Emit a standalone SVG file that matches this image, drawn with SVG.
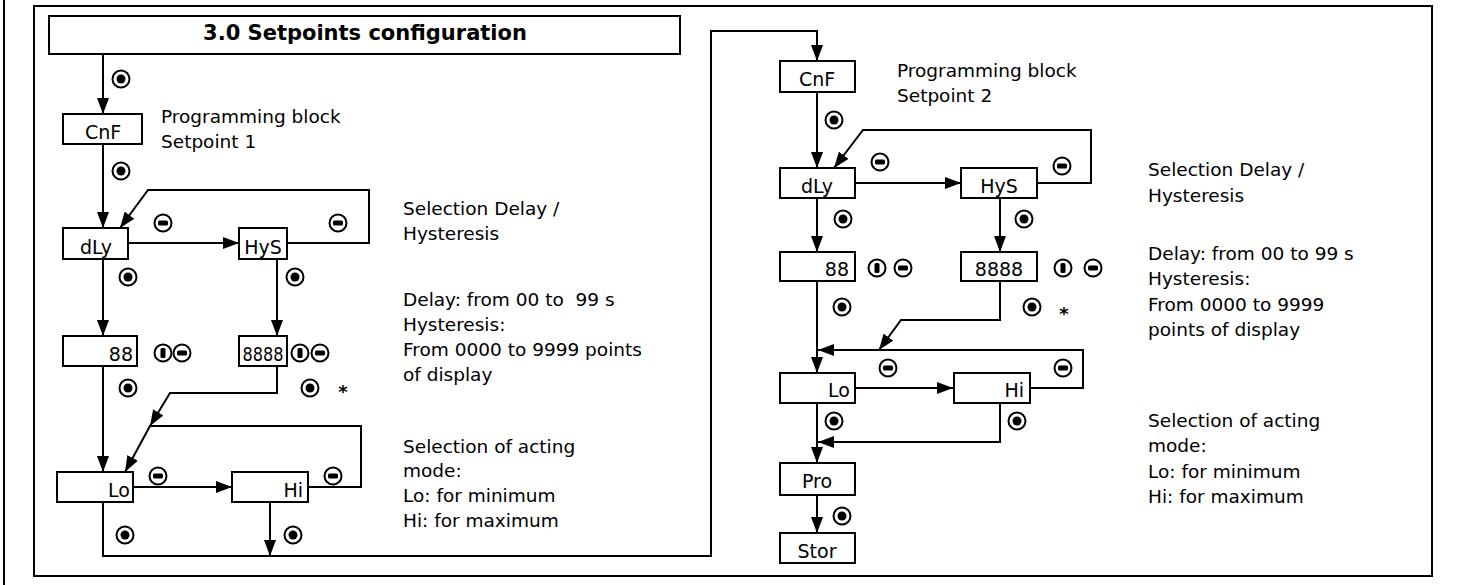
<svg xmlns="http://www.w3.org/2000/svg" width="1471" height="585" viewBox="0 0 1471 585">
<style>
.frame{fill:none;stroke:#000;stroke-width:2}
.box{fill:#fff;stroke:#000;stroke-width:2}
.ln{fill:none;stroke:#000;stroke-width:2}
.lbl{font-family:"DejaVu Sans",Verdana,sans-serif;font-size:19px;fill:#000}
.note{font-family:"DejaVu Sans",Verdana,sans-serif;font-size:18.5px;fill:#000}
.title{font-family:"DejaVu Sans",Verdana,sans-serif;font-size:21px;font-weight:bold;fill:#000}
.star{font-family:"DejaVu Sans",Verdana,sans-serif;font-size:18px;font-weight:bold;fill:#000}
.ring{fill:#fff;stroke:#000;stroke-width:2}
</style>
<defs>
<marker id="arr" markerUnits="userSpaceOnUse" markerWidth="16" markerHeight="12" refX="16" refY="6" orient="auto">
<path d="M0,0 L16,6 L0,12 Z" fill="#000"/>
</marker>
<g id="sel"><circle r="8.5" class="ring"/><circle r="4.5" fill="#000"/></g>
<g id="minus"><circle r="8.5" class="ring"/><rect x="-5" y="-2.5" width="10" height="5" rx="1.5" fill="#000"/></g>
<g id="up"><circle r="8.5" class="ring"/><rect x="-2.5" y="-5" width="5" height="10" rx="1.5" fill="#000"/></g>
</defs>
<rect width="1471" height="585" fill="#fff"/>
<line x1="4" y1="0" x2="4" y2="585" class="frame"/>
<rect x="34" y="6" width="1398" height="570" class="frame"/>

<g id="connectors">
<path class="ln" d="M103,54 V114" marker-end="url(#arr)"/>
<path class="ln" d="M103,144 V228" marker-end="url(#arr)"/>
<path class="ln" d="M128,243 H239" marker-end="url(#arr)"/>
<path class="ln" d="M287,243 H369 V190 H148 L120,228" marker-end="url(#arr)"/>
<path class="ln" d="M103,259 V336" marker-end="url(#arr)"/>
<path class="ln" d="M277,259 V336" marker-end="url(#arr)"/>
<path class="ln" d="M103,366 V472" marker-end="url(#arr)"/>
<path class="ln" d="M277,366 V393 H170 L150,426" marker-end="url(#arr)"/>
<path class="ln" d="M308,487 H361 V426 H150 L125,472" marker-end="url(#arr)"/>
<path class="ln" d="M133,487 H232" marker-end="url(#arr)"/>
<path class="ln" d="M270,502 V556" marker-end="url(#arr)"/>
<path class="ln" d="M103,502 V556 H711 V31 H817 V61" marker-end="url(#arr)"/>
<path class="ln" d="M817,92 V168" marker-end="url(#arr)"/>
<path class="ln" d="M855,183 H961" marker-end="url(#arr)"/>
<path class="ln" d="M1037,183 H1091 V130 H863 L834,168" marker-end="url(#arr)"/>
<path class="ln" d="M817,198 V252" marker-end="url(#arr)"/>
<path class="ln" d="M1000,198 V252" marker-end="url(#arr)"/>
<path class="ln" d="M817,281 V373" marker-end="url(#arr)"/>
<path class="ln" d="M1000,281 V320 H901 L879,350" marker-end="url(#arr)"/>
<path class="ln" d="M1030,388 H1083 V350 H818" marker-end="url(#arr)"/>
<path class="ln" d="M855,388 H953" marker-end="url(#arr)"/>
<path class="ln" d="M817,403 V463" marker-end="url(#arr)"/>
<path class="ln" d="M1000,403 V442 H818" marker-end="url(#arr)"/>
<path class="ln" d="M817,495 V533" marker-end="url(#arr)"/>
</g>

<g id="title"><rect x="49" y="16" width="631" height="38" class="box"/><text x="365" y="40" text-anchor="middle" class="title">3.0 Setpoints configuration</text></g>

<g id="cnf1"><rect x="63" y="114" width="79" height="30" class="box"/><text x="103" y="139" text-anchor="middle" class="lbl">CnF</text></g>
<g id="dly1"><rect x="63" y="228" width="65" height="31" class="box"/><text x="96" y="254" text-anchor="middle" class="lbl">dLy</text></g>
<g id="hys1"><rect x="239" y="228" width="48" height="31" class="box"/><text x="263" y="254" text-anchor="middle" class="lbl">HyS</text></g>
<g id="v88a"><rect x="63" y="336" width="74" height="30" class="box"/><text x="133" y="361" text-anchor="end" class="lbl">88</text></g>
<g id="v8888a"><rect x="239" y="336" width="48" height="30" class="box"/><text x="263" y="361" text-anchor="middle" class="lbl" textLength="41" lengthAdjust="spacingAndGlyphs">8888</text></g>
<g id="lo1"><rect x="57" y="472" width="76" height="30" class="box"/><text x="130" y="497" text-anchor="end" class="lbl">Lo</text></g>
<g id="hi1"><rect x="232" y="472" width="76" height="30" class="box"/><text x="303" y="497" text-anchor="end" class="lbl">Hi</text></g>

<g id="cnf2"><rect x="780" y="61" width="75" height="31" class="box"/><text x="817" y="86" text-anchor="middle" class="lbl">CnF</text></g>
<g id="dly2"><rect x="780" y="168" width="75" height="30" class="box"/><text x="817" y="193" text-anchor="middle" class="lbl">dLy</text></g>
<g id="hys2"><rect x="961" y="168" width="76" height="30" class="box"/><text x="999" y="193" text-anchor="middle" class="lbl">HyS</text></g>
<g id="v88b"><rect x="780" y="252" width="75" height="29" class="box"/><text x="849" y="276" text-anchor="end" class="lbl">88</text></g>
<g id="v8888b"><rect x="961" y="252" width="76" height="29" class="box"/><text x="999" y="276" text-anchor="middle" class="lbl">8888</text></g>
<g id="lo2"><rect x="780" y="373" width="75" height="30" class="box"/><text x="850" y="397" text-anchor="end" class="lbl">Lo</text></g>
<g id="hi2"><rect x="954" y="373" width="76" height="30" class="box"/><text x="1024" y="397" text-anchor="end" class="lbl">Hi</text></g>
<g id="pro"><rect x="780" y="463" width="75" height="32" class="box"/><text x="817" y="488" text-anchor="middle" class="lbl">Pro</text></g>
<g id="stor"><rect x="780" y="533" width="75" height="30" class="box"/><text x="817" y="558" text-anchor="middle" class="lbl">Stor</text></g>

<g id="keys">
<use href="#sel" x="121" y="79"/>
<use href="#sel" x="121" y="171"/>
<use href="#minus" x="163" y="223"/>
<use href="#minus" x="338" y="223"/>
<use href="#sel" x="128" y="277"/>
<use href="#sel" x="295" y="277"/>
<use href="#up" x="163" y="353"/>
<use href="#minus" x="182" y="353"/>
<use href="#up" x="300" y="353"/>
<use href="#minus" x="320" y="353"/>
<use href="#sel" x="128" y="388"/>
<use href="#sel" x="310" y="388"/>
<use href="#minus" x="158" y="476"/>
<use href="#minus" x="333" y="476"/>
<use href="#sel" x="125" y="535"/>
<use href="#sel" x="293" y="535"/>
<use href="#sel" x="834" y="120"/>
<use href="#minus" x="880" y="162"/>
<use href="#minus" x="1062" y="166"/>
<use href="#sel" x="843" y="219"/>
<use href="#sel" x="1024" y="219"/>
<use href="#up" x="877" y="268"/>
<use href="#minus" x="903" y="268"/>
<use href="#up" x="1063" y="268"/>
<use href="#minus" x="1093" y="268"/>
<use href="#sel" x="842" y="307"/>
<use href="#sel" x="1032" y="307"/>
<use href="#minus" x="888" y="368"/>
<use href="#minus" x="1063" y="368"/>
<use href="#sel" x="834" y="421"/>
<use href="#sel" x="1017" y="421"/>
<use href="#sel" x="842" y="516"/>
<text x="343" y="398" text-anchor="middle" class="star">*</text>
<text x="1064" y="320" text-anchor="middle" class="star">*</text>
</g>

<g id="notes">
<text class="note" x="161" y="123">Programming block</text>
<text class="note" x="161" y="148">Setpoint 1</text>
<text class="note" x="403" y="215">Selection Delay /</text>
<text class="note" x="403" y="240">Hysteresis</text>
<text class="note" x="403" y="306" xml:space="preserve" style="white-space:pre">Delay: from 00 to  99 s</text>
<text class="note" x="403" y="331">Hysteresis:</text>
<text class="note" x="403" y="356">From 0000 to 9999 points</text>
<text class="note" x="403" y="381">of display</text>
<text class="note" x="403" y="453">Selection of acting</text>
<text class="note" x="403" y="477">mode:</text>
<text class="note" x="403" y="502">Lo: for minimum</text>
<text class="note" x="403" y="527">Hi: for maximum</text>
<text class="note" x="897" y="77">Programming block</text>
<text class="note" x="897" y="102">Setpoint 2</text>
<text class="note" x="1148" y="176">Selection Delay /</text>
<text class="note" x="1148" y="202">Hysteresis</text>
<text class="note" x="1148" y="260">Delay: from 00 to 99 s</text>
<text class="note" x="1148" y="285">Hysteresis:</text>
<text class="note" x="1148" y="311">From 0000 to 9999</text>
<text class="note" x="1148" y="336">points of display</text>
<text class="note" x="1148" y="427">Selection of acting</text>
<text class="note" x="1148" y="452">mode:</text>
<text class="note" x="1148" y="478">Lo: for minimum</text>
<text class="note" x="1148" y="503">Hi: for maximum</text>
</g>
</svg>
